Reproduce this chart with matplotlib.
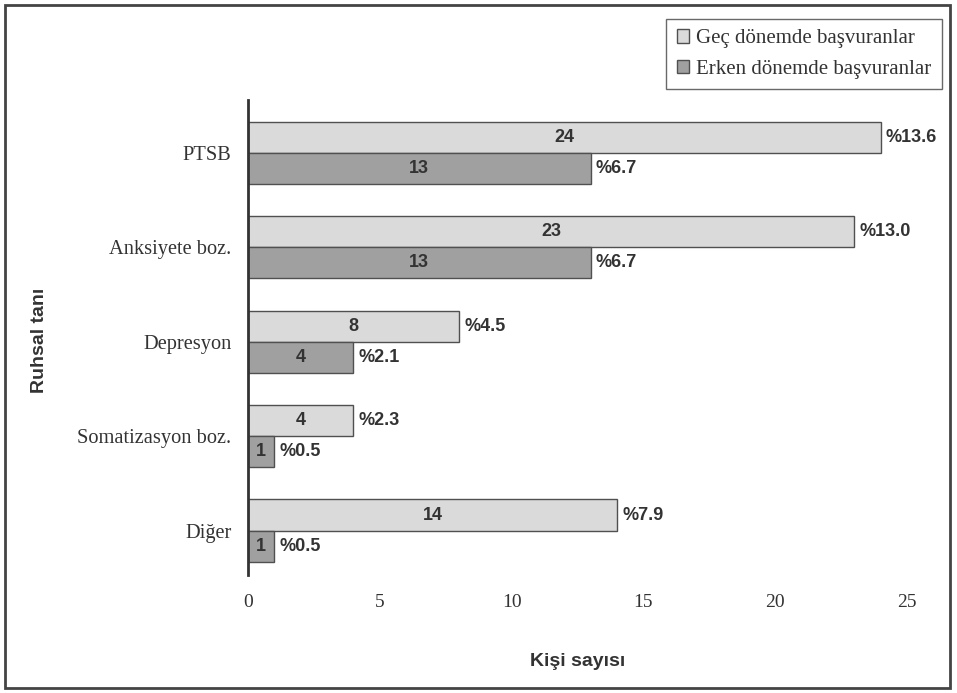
import numpy as np
import matplotlib.pyplot as plt
from matplotlib.patches import Rectangle

categories = ['PTSB', 'Anksiyete boz.', 'Depresyon', 'Somatizasyon boz.', 'Diğer']
gec = [24, 23, 8, 4, 14]
erken = [13, 13, 4, 1, 1]
gec_pct = ['%13.6', '%13.0', '%4.5', '%2.3', '%7.9']
erken_pct = ['%6.7', '%6.7', '%2.1', '%0.5', '%0.5']

serif = 'Liberation Serif'
sans = 'Liberation Sans'

fig = plt.figure(figsize=(9.57, 6.93), dpi=100)
ax = fig.add_axes([248 / 957, 118 / 693, (907 - 248) / 957, (593 - 118) / 693])

y = np.arange(len(categories))
h = 0.33
b1 = ax.barh(y - h / 2, gec, height=h, color='#dadada', edgecolor='#505050',
             linewidth=1, label='Geç dönemde başvuranlar')
b2 = ax.barh(y + h / 2, erken, height=h, color='#a0a0a0', edgecolor='#505050',
             linewidth=1, label='Erken dönemde başvuranlar')

for bars, vals, pcts in [(b1, gec, gec_pct), (b2, erken, erken_pct)]:
    for bar, v, p in zip(bars, vals, pcts):
        cy = bar.get_y() + bar.get_height() / 2
        ax.text(v / 2, cy, str(v), ha='center', va='center', family=sans,
                fontweight='bold', fontsize=13, color='#333333')
        ax.text(v + 0.2, cy, p, ha='left', va='center', family=sans,
                fontweight='bold', fontsize=13, color='#333333')

ax.set_xlim(0, 25)
ax.set_ylim(len(categories) - 1 + 0.47, -0.56)
ax.set_yticks(y)
ax.set_yticklabels(categories, family=serif, fontsize=14.7, color='#333333')
ax.set_xticks([0, 5, 10, 15, 20, 25])
ax.set_xticklabels(['0', '5', '10', '15', '20', '25'], family=serif,
                   fontsize=14, color='#333333')
ax.tick_params(axis='y', length=0, pad=12)
ax.tick_params(axis='x', length=0, pad=14)
for s in ['top', 'right', 'bottom']:
    ax.spines[s].set_visible(False)
ax.spines['left'].set_linewidth(2)
ax.spines['left'].set_color('#333333')

ax.set_xlabel('Kişi sayısı', family=sans, fontweight='bold', fontsize=14,
              labelpad=30, color='#333333')
fig.text(40 / 957, 1 - 340 / 693, 'Ruhsal tanı', rotation=90, ha='center',
         va='center', family=sans, fontweight='bold', fontsize=14,
         color='#333333')

fig.legend(loc='upper right', bbox_to_anchor=(942 / 957, 1 - 19 / 693),
           borderaxespad=0, prop={'family': serif, 'size': 15}, frameon=True,
           fancybox=False, edgecolor='#444444', handlelength=0.6,
           handleheight=0.6, handletextpad=0.35, borderpad=0.5,
           labelspacing=0.55, labelcolor='#333333')

fig.patches.append(Rectangle((5 / 957, 5 / 693), 945 / 957, 683 / 693,
                             transform=fig.transFigure, fill=False,
                             edgecolor='#444444', linewidth=2))

fig.savefig('out.png', dpi=100)
